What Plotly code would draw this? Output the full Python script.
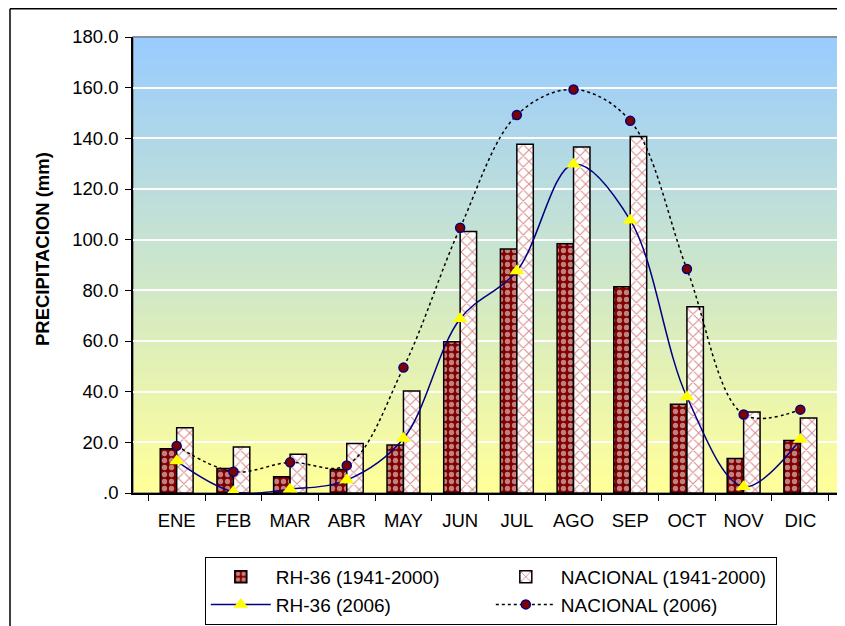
import plotly.graph_objects as go

months = ["ENE", "FEB", "MAR", "ABR", "MAY", "JUN", "JUL", "AGO", "SEP", "OCT", "NOV", "DIC"]
rh36_hist = [17.5, 9.7, 6.4, 9.3, 18.9, 59.7, 96.3, 98.4, 81.4, 35.0, 13.6, 20.7]
nac_hist = [25.8, 18.2, 15.3, 19.5, 40.3, 103.2, 137.7, 136.6, 140.7, 73.5, 32.0, 29.6]
rh36_2006 = [12.6, 0.5, 1.5, 5.1, 21.5, 68.8, 87.6, 129.8, 107.7, 37.9, 2.5, 21.1]
nac_2006 = [18.6, 8.4, 12.1, 10.9, 49.5, 104.7, 149.2, 159.3, 146.9, 88.4, 31.0, 32.9]
y_ticks = [0, 20, 40, 60, 80, 100, 120, 140, 160, 180]
y_ticktext = [".0", "20.0", "40.0", "60.0", "80.0", "100.0", "120.0", "140.0", "160.0", "180.0"]

FONT = "Liberation Sans, Arial, sans-serif"

fig = go.Figure()
fig.add_trace(go.Bar(
    x=months, y=rh36_hist, name="RH-36 (1941-2000)",
    marker=dict(color="#800000", line=dict(color="black", width=1.5),
                pattern=dict(shape=".", fgcolor="white", bgcolor="#800000",
                             size=7, solidity=0.45)),
))
fig.add_trace(go.Bar(
    x=months, y=nac_hist, name="NACIONAL (1941-2000)",
    marker=dict(color="white", line=dict(color="black", width=1.5),
                pattern=dict(shape="x", fgcolor="#B01818", bgcolor="white",
                             size=8, solidity=0.25)),
))
fig.add_trace(go.Scatter(
    x=months, y=rh36_2006, name="RH-36 (2006)", mode="lines+markers",
    line=dict(color="#000080", width=1.5, shape="spline", smoothing=1.0),
    marker=dict(symbol="triangle-up", size=13, color="#FFFF00", line=dict(width=0)),
))
fig.add_trace(go.Scatter(
    x=months, y=nac_2006, name="NACIONAL (2006)", mode="lines+markers",
    line=dict(color="black", width=1.5, dash="dot", shape="spline", smoothing=1.0),
    marker=dict(symbol="circle", size=9, color="#800000", line=dict(color="#000080", width=1.5)),
))

# gradient background strips
shapes = []
n = 80
top = (153, 204, 255)
bot = (255, 255, 153)
for i in range(n):
    t = i / (n - 1)
    c = tuple(round(bot[k] + (top[k] - bot[k]) * t) for k in range(3))
    shapes.append(dict(type="rect", xref="x domain", yref="y domain",
                       x0=0, x1=1, y0=i / n, y1=(i + 1) / n + 0.002,
                       fillcolor="rgb(%d,%d,%d)" % c, line=dict(width=0), layer="below"))
shapes.append(dict(type="rect", xref="x domain", yref="y domain", x0=0, x1=1, y0=0, y1=1,
                   line=dict(color="#808080", width=1.5), layer="below"))
# outer chart frame (left and top)
shapes.append(dict(type="line", xref="paper", yref="paper", x0=-0.173, x1=-0.173, y0=-0.35, y1=1.062,
                   line=dict(color="black", width=1.5)))
shapes.append(dict(type="line", xref="paper", yref="paper", x0=-0.173, x1=1.01, y0=1.062, y1=1.062,
                   line=dict(color="black", width=1.5)))

fig.update_layout(
    width=837, height=618,
    margin=dict(l=125, r=1, t=29, b=133),
    paper_bgcolor="white",
    plot_bgcolor="rgba(0,0,0,0)",
    font=dict(family=FONT, size=18.5, color="black"),
    barmode="group", bargap=0.42, bargroupgap=0,
    shapes=shapes,
    showlegend=True,
    legend=dict(orientation="h", x=0.101, xanchor="left", y=-0.14, yanchor="top",
                bordercolor="black", borderwidth=1, bgcolor="white",
                font=dict(family=FONT, size=19), entrywidth=210, entrywidthmode="pixels",
                itemwidth=60, tracegroupgap=0, traceorder="normal"),
    annotations=[dict(text="<b>PRECIPITACION (mm)</b>", xref="paper", yref="paper",
                      x=-0.128, y=0.535, xanchor="center", yanchor="middle",
                      textangle=-90, showarrow=False,
                      font=dict(family=FONT, size=18.5, color="black"))],
)
fig.update_xaxes(
    type="category", showline=True, linecolor="black", linewidth=1.5,
    ticks="outside", tickson="boundaries", ticklen=6, tickcolor="black",
    showgrid=False, tickfont=dict(family=FONT, size=18.5), ticklabelstandoff=10,
)
fig.update_yaxes(
    range=[0, 180], tickvals=y_ticks, ticktext=y_ticktext,
    showline=True, linecolor="black", linewidth=1.5,
    ticks="outside", ticklen=6, tickcolor="black",
    showgrid=True, gridcolor="white", gridwidth=1.5, zeroline=False,
    tickfont=dict(family=FONT, size=18.5), ticklabelstandoff=3,
)

fig.write_html("out.html")
